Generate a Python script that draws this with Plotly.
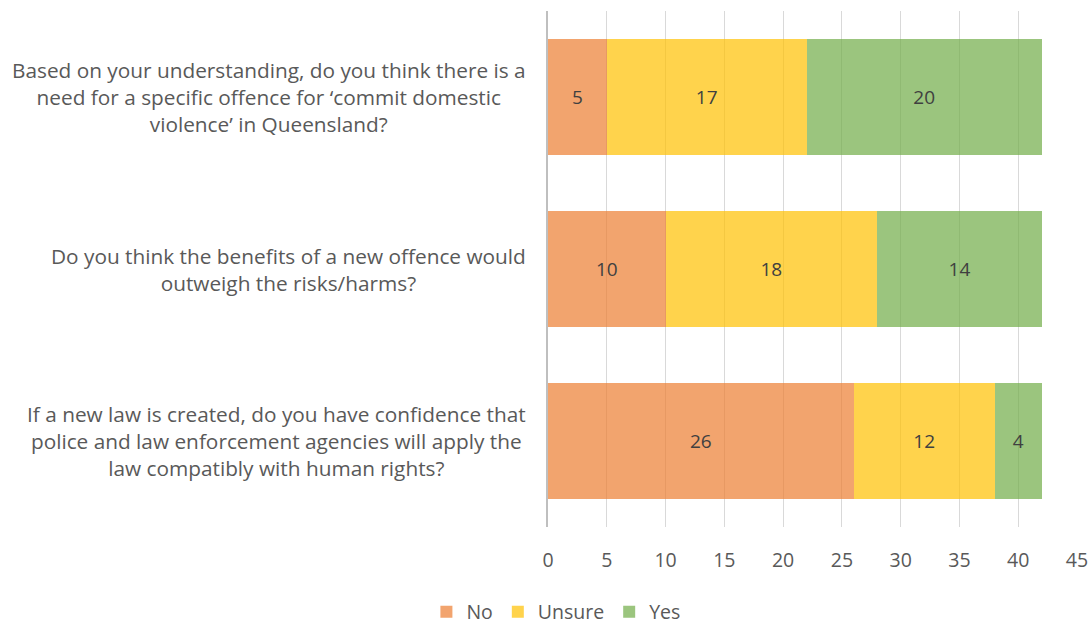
import plotly.graph_objects as go

questions = [
    "Based on your understanding, do you think there is a<br>need for a specific offence for ‘commit domestic<br>violence’ in Queensland?",
    "Do you think the benefits of a new offence would<br>outweigh the risks/harms?",
    "If a new law is created, do you have confidence that<br>police and law enforcement agencies will apply the<br>law compatibly with human rights?",
]
keys = ["q1", "q2", "q3"]
no_vals = [5, 10, 26]
unsure_vals = [17, 18, 12]
yes_vals = [20, 14, 4]
x_ticks = [0, 5, 10, 15, 20, 25, 30, 35, 40, 45]

FONT = "Open Sans"
TXT = "#404040"

fig = go.Figure()
for name, vals, col in [
    ("No", no_vals, "rgba(237,125,49,0.7)"),
    ("Unsure", unsure_vals, "rgba(255,192,0,0.7)"),
    ("Yes", yes_vals, "rgba(112,173,71,0.7)"),
]:
    fig.add_trace(go.Bar(
        y=keys, x=vals, name=name, orientation="h",
        marker=dict(color=col, line=dict(width=0)),
        text=[str(v) for v in vals], textposition="inside",
        insidetextanchor="middle", constraintext="none",
        textfont=dict(family=FONT, size=19, color=TXT),
    ))

for k, q in zip(keys, questions):
    fig.add_annotation(
        x=0, xref="paper", y=k, yref="y", text=q, showarrow=False,
        xanchor="right", xshift=-20, align="center",
        font=dict(family=FONT, size=20.8, color="#595959"),
    )

fig.update_layout(
    barmode="stack", bargap=0.33,
    width=1090, height=625,
    margin=dict(l=548, r=13, t=11, b=98, autoexpand=False),
    plot_bgcolor="white", paper_bgcolor="white",
    font=dict(family=FONT, color="#595959"),
    legend=dict(
        orientation="h", xref="container", yref="paper",
        x=0.51, xanchor="center", y=-0.165, yanchor="middle",
        font=dict(family=FONT, size=19.5, color="#595959"),
        itemwidth=30, traceorder="normal",
    ),
    showlegend=True,
)
fig.update_xaxes(
    range=[0, 45], tickvals=x_ticks, ticktext=[str(t) for t in x_ticks],
    showgrid=True, gridcolor="#D9D9D9", gridwidth=1, zeroline=False,
    tickfont=dict(family=FONT, size=19.5, color="#595959"), ticklen=0,
    ticklabelstandoff=19, automargin=False,
)
fig.update_yaxes(
    categoryorder="array", categoryarray=keys, autorange="reversed",
    showticklabels=False, showline=True, linecolor="#BFBFBF", linewidth=2,
    showgrid=False, automargin=False,
)

fig.write_html("out.html")
